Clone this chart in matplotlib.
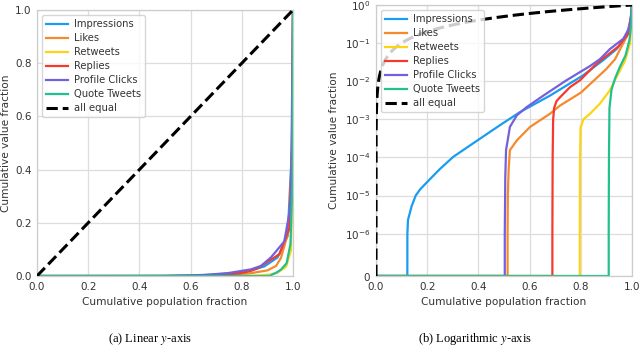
import numpy as np
import matplotlib
matplotlib.use("Agg")
import matplotlib.pyplot as plt

# Lorenz-curve points (x = cumulative population, y = cumulative value)
series_names = ["Impressions", "Likes", "Retweets", "Replies", "Profile Clicks", "Quote Tweets"]
series_colors = ["#1a9cf0", "#f58a2c", "#fdd411", "#f43a2f", "#7460da", "#22c08f"]

impr_x = [0.0, 0.1224, 0.1226, 0.125, 0.139, 0.155, 0.172, 0.198, 0.25, 0.302, 0.406, 0.484, 0.5625, 0.68, 0.81, 0.888, 0.94, 0.979, 0.996, 1.0]
impr_y = [0, 0, 1e-6, 2.3e-6, 5.2e-6, 1.0e-5, 1.44e-5, 2.2e-5, 5e-5, 1.04e-4, 3.1e-4, 7e-4, 1.55e-3, 4.2e-3, 1.44e-2, 3.6e-2, 7e-2, 0.15, 0.48, 1.0]

likes_x = [0.0, 0.514, 0.514, 0.515, 0.518, 0.523, 0.55, 0.6016, 0.68, 0.719, 0.8, 0.9, 0.934, 0.953, 0.986, 0.996, 1.0]
likes_y = [0, 0, 1e-6, 1e-5, 4.6e-5, 1.55e-4, 2.8e-4, 6.3e-4, 1.41e-3, 2.3e-3, 5e-3, 2.1e-2, 3.8e-2, 6.8e-2, 0.18, 0.48, 1.0]

rt_x = [0.0, 0.796, 0.796, 0.797, 0.799, 0.81, 0.836, 0.875, 0.914, 0.94, 0.973, 0.992, 0.998, 1.0]
rt_y = [0, 0, 1e-6, 1e-4, 6e-4, 1e-3, 1.4e-3, 2.6e-3, 5.8e-3, 1.3e-2, 3.5e-2, 9.6e-2, 0.4, 1.0]

rep_x = [0.0, 0.689, 0.689, 0.69, 0.692, 0.696, 0.705, 0.719, 0.758, 0.797, 0.836, 0.862, 0.947, 0.986, 0.996, 1.0]
rep_y = [0, 0, 1e-6, 1e-4, 1e-3, 2e-3, 3e-3, 3.8e-3, 7e-3, 1.06e-2, 1.94e-2, 2.9e-2, 8.2e-2, 0.18, 0.48, 1.0]

prof_x = [0.0, 0.503, 0.503, 0.504, 0.505, 0.508, 0.523, 0.55, 0.589, 0.654, 0.745, 0.836, 0.875, 0.914, 0.966, 0.992, 1.0]
prof_y = [0, 0, 1e-6, 5e-6, 3e-5, 1.55e-4, 6.3e-4, 1.27e-3, 2.1e-3, 4.2e-3, 1.07e-2, 2.5e-2, 3.8e-2, 7e-2, 0.13, 0.27, 1.0]

qt_x = [0.0, 0.909, 0.909, 0.91, 0.912, 0.92, 0.934, 0.953, 0.975, 0.99, 0.998, 1.0]
qt_y = [0, 0, 1e-6, 1e-4, 2e-3, 6e-3, 1.2e-2, 2.4e-2, 4.8e-2, 0.12, 0.35, 1.0]

xs = [impr_x, likes_x, rt_x, rep_x, prof_x, qt_x]
ys = [impr_y, likes_y, rt_y, rep_y, prof_y, qt_y]

# line of equality (needs many points so it bends on the symlog axis)
equal_frac = np.linspace(0, 1, 2001)

log_ticks = [0, 1e-6, 1e-5, 1e-4, 1e-3, 1e-2, 1e-1, 1e0]
lin_ticks = [0.0, 0.2, 0.4, 0.6, 0.8, 1.0]

plt.rcParams["font.family"] = "DejaVu Sans"
plt.rcParams["font.size"] = 7.6
plt.rcParams["mathtext.fontset"] = "dejavusans"

fig = plt.figure(figsize=(6.4, 3.64), dpi=100)
ax1 = fig.add_axes([37 / 640, 88 / 364, 256 / 640, 266 / 364])
ax2 = fig.add_axes([376 / 640, 88 / 364, 256 / 640, 271 / 364])

for ax in (ax1, ax2):
    for name, color, x, y in zip(series_names, series_colors, xs, ys):
        ax.plot(x, y, color=color, lw=1.6, label=name)
    ax.plot(equal_frac, equal_frac, color="black", lw=2.2, ls="--", label="all equal", zorder=3)
    ax.set_xlim(0, 1)
    ax.set_ylim(0, 1)
    ax.set_xticks(lin_ticks)
    ax.grid(True, color="#dddddd", lw=0.9)
    ax.set_axisbelow(True)
    for sp in ax.spines.values():
        sp.set_color("#cccccc")
        sp.set_linewidth(0.9)
    ax.tick_params(length=0, pad=4, colors="#333333", labelsize=7.5)
    ax.set_xlabel("Cumulative population fraction", color="#333333", labelpad=4)
    leg = ax.legend(loc="upper left", fontsize=7.2, handlelength=2.2, handletextpad=0.6,
                    labelspacing=0.4, borderpad=0.4, framealpha=0.8, edgecolor="#cccccc")
    for t in leg.get_texts():
        t.set_color("#333333")

ax1.set_ylabel("Cumulative value fraction", color="#333333", labelpad=2.5)
ax2.set_ylabel("Cumulative value fraction", color="#333333", labelpad=4)
ax1.set_yticks(lin_ticks)
ax2.set_yscale("symlog", linthresh=1e-6, linscale=1)
ax2.set_ylim(0, 1)
ax2.set_yticks(log_ticks)
ax2.yaxis.set_minor_locator(matplotlib.ticker.NullLocator())

fig.text(150 / 640, 1 - 339 / 364, "(a) Linear $y$-axis", ha="center", va="center",
         family="Liberation Serif", fontsize=9, math_fontfamily="stix")
fig.text(475 / 640, 1 - 339 / 364, "(b) Logarithmic $y$-axis", ha="center", va="center",
         family="Liberation Serif", fontsize=9, math_fontfamily="stix")

fig.savefig("out.png", dpi=100)
